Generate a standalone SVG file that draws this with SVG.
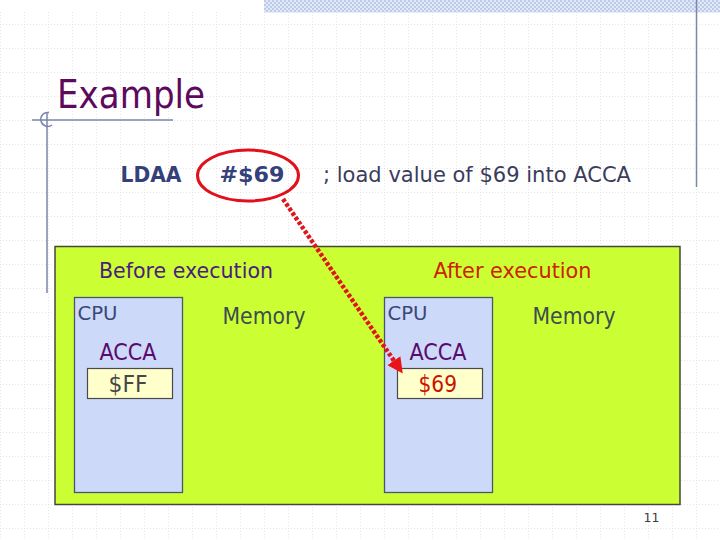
<svg xmlns="http://www.w3.org/2000/svg" width="720" height="540" viewBox="0 0 720 540">
<defs>
<pattern id="grid" x="0" y="0" width="24" height="24" patternUnits="userSpaceOnUse">
<path d="M0 0H24M0 0V24" fill="none" stroke="#cdcdcd" stroke-width="1" stroke-dasharray="1 2"/>
</pattern>
<pattern id="check" x="0" y="0" width="4" height="4" patternUnits="userSpaceOnUse">
<rect width="4" height="4" fill="#e2e9f6"/>
<rect width="2" height="2" fill="#bccbe8"/>
<rect x="2" y="2" width="2" height="2" fill="#bccbe8"/>
</pattern>
<marker id="arrow" viewBox="0 0 10 10" refX="8" refY="5" markerWidth="3.5" markerHeight="3.5" orient="auto" markerUnits="strokeWidth">
<path d="M0 0L10 5L0 10z" fill="#e8141a"/>
</marker>
<style>
text{font-family:"DejaVu Sans","Liberation Sans",sans-serif}
.box{fill:#cdd9f8;stroke:#4a5670;stroke-width:1.3}
.reg{fill:#ffffcc;stroke:#4a4a4a;stroke-width:1.2}
.cpu{font-size:19.5px;fill:#3a4878}
.mem{font-size:23.5px;fill:#3c4d50}
.acca{font-size:22.5px;fill:#5a0a6e}
.frame{stroke:#7a86aa;stroke-width:1.5;fill:none}
</style>
</defs>
<rect width="720" height="540" fill="#ffffff"/>
<rect x="0" y="12" width="720" height="528" fill="url(#grid)"/>
<rect x="264" y="0" width="456" height="12.5" fill="url(#check)"/>
<g id="decor">
<line class="frame" x1="696.5" y1="0" x2="696.5" y2="187"/>
<line class="frame" x1="47" y1="112" x2="47" y2="293"/>
<line class="frame" x1="32" y1="120" x2="173" y2="120"/>
<path class="frame" stroke-width="1" d="M49 112.5A7 7 0 1 0 52 125"/>
</g>
<g id="title">
<text x="57" y="108" font-size="38.5" fill="#5c0a5c" textLength="148" lengthAdjust="spacingAndGlyphs">Example</text>
</g>
<g id="instruction">
<text x="120.5" y="182" font-size="21.5" font-weight="bold" fill="#34407a" textLength="61" lengthAdjust="spacingAndGlyphs">LDAA</text>
<text x="219.5" y="182" font-size="21.5" font-weight="bold" fill="#34407a" textLength="65" lengthAdjust="spacingAndGlyphs">#$69</text>
<ellipse cx="248" cy="175.5" rx="50.5" ry="25.5" fill="none" stroke="#e3101c" stroke-width="3"/>
<text x="323" y="182" font-size="21.5" fill="#3a3c5c" textLength="308" lengthAdjust="spacingAndGlyphs">; load value of $69 into ACCA</text>
</g>
<g id="panel">
<rect x="55" y="246.5" width="625" height="258" fill="#ccff33" stroke="#44483a" stroke-width="1.5"/>
<text x="99" y="278" font-size="21.5" fill="#4b1c80" textLength="174" lengthAdjust="spacingAndGlyphs">Before execution</text>
<text x="433.5" y="278" font-size="21.5" fill="#cc2200" textLength="158" lengthAdjust="spacingAndGlyphs">After execution</text>
</g>
<g id="cpu-before">
<rect class="box" x="74.5" y="297.5" width="108" height="195"/>
<text class="cpu" x="77.5" y="319.5" textLength="40" lengthAdjust="spacingAndGlyphs">CPU</text>
<text class="acca" x="99.5" y="360" textLength="57" lengthAdjust="spacingAndGlyphs">ACCA</text>
<rect class="reg" x="87.5" y="368.5" width="85" height="30"/>
<text x="108.5" y="392" font-size="22.5" fill="#474747" textLength="39" lengthAdjust="spacingAndGlyphs">$FF</text>
</g>
<g id="memory-before">
<text class="mem" x="222.5" y="323.5" textLength="83" lengthAdjust="spacingAndGlyphs">Memory</text>
</g>
<g id="cpu-after">
<rect class="box" x="384.5" y="297.5" width="108" height="195"/>
<text class="cpu" x="387.5" y="319.5" textLength="40" lengthAdjust="spacingAndGlyphs">CPU</text>
<text class="acca" x="409.5" y="360" textLength="57" lengthAdjust="spacingAndGlyphs">ACCA</text>
<rect class="reg" x="397.5" y="368.5" width="85" height="30"/>
<text x="418.5" y="392" font-size="22.5" fill="#cc1100" textLength="38.5" lengthAdjust="spacingAndGlyphs">$69</text>
</g>
<g id="memory-after">
<text class="mem" x="532.5" y="323.5" textLength="83" lengthAdjust="spacingAndGlyphs">Memory</text>
</g>
<g id="connectors">
<line x1="283" y1="199" x2="401" y2="371" stroke="#e0141a" stroke-width="4.5" stroke-dasharray="3.5 2" marker-end="url(#arrow)"/>
</g>
<g id="page">
<text x="651.5" y="522" font-size="12.5" fill="#3c3c3c" text-anchor="middle">11</text>
</g>
</svg>
